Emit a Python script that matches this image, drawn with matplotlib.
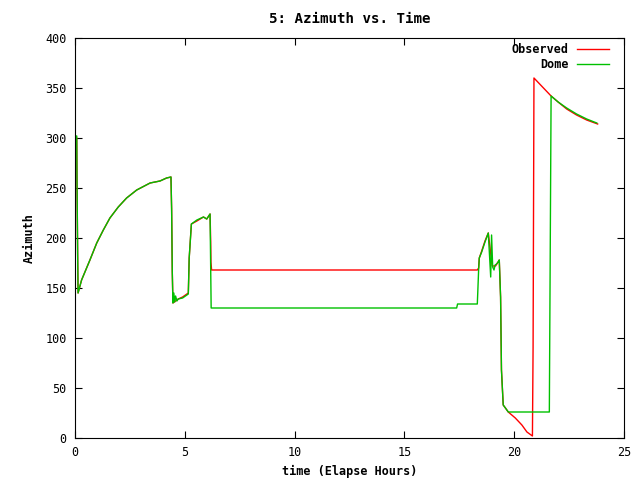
import matplotlib
matplotlib.use("Agg")
import matplotlib.pyplot as plt

# Dome azimuth (green)
dome_t = [0.00, 0.08, 0.09, 0.12, 0.14, 0.30, 0.68, 0.99, 1.29, 1.59, 1.97, 2.35,
          2.81, 3.42, 3.87, 4.17, 4.37, 4.40, 4.43, 4.46, 4.50, 4.54, 4.58, 4.64,
          4.70, 4.90, 5.16, 5.20, 5.30, 5.55, 5.85, 6.00, 6.15, 6.20, 17.38, 17.42,
          18.32, 18.34, 18.38, 18.41, 18.52, 18.67, 18.82, 18.87, 18.93, 18.97, 19.02,
          19.08, 19.13, 19.20, 19.27, 19.32, 19.38, 19.42, 19.50, 19.60, 19.73, 21.60,
          21.62, 21.68, 22.00, 22.39, 22.84, 23.30, 23.76]
dome_v = [302, 302, 262, 185, 145, 158, 178, 195, 208, 220, 231, 240,
          248, 255, 257, 260, 261, 229, 166, 135, 145, 136, 142, 137,
          139, 140, 144, 180, 214, 218, 221, 219, 224, 130, 130, 134,
          134, 145, 168, 180, 186, 196, 205, 185, 161, 203, 171,
          168, 173, 174, 176, 178, 141, 68, 33, 30, 26, 26,
          105, 342, 336, 330, 324, 319, 315]

# Observed azimuth (red)
obs_t = [0.00, 0.08, 0.09, 0.12, 0.14, 0.30, 0.68, 0.99, 1.29, 1.59, 1.97, 2.35,
         2.81, 3.42, 3.87, 4.17, 4.37, 4.40, 4.43, 4.46, 4.70, 4.90, 5.16, 5.20,
         5.30, 5.55, 5.85, 6.00, 6.15, 6.18, 6.19, 6.22, 18.32, 18.38, 18.41, 18.52,
         18.67, 18.82, 18.90, 19.00, 19.15, 19.32, 19.38, 19.42, 19.50, 19.60, 19.73,
         20.05, 20.35, 20.58, 20.83, 20.86, 20.90, 21.68, 22.00, 22.39, 22.84, 23.30,
         23.80]
obs_v = [300, 300, 261, 185, 145, 158, 178, 195, 208, 220, 231, 240,
         248, 255, 257, 260, 261, 229, 166, 135, 139, 141, 145, 180,
         214, 217, 221, 219, 224, 196, 176, 168, 168, 170, 180, 187,
         197, 205, 190, 172, 172, 178, 141, 68, 33, 30, 26,
         20, 13, 6, 2, 91, 360, 342, 336, 329, 323, 318,
         314]

xticks = [0, 5, 10, 15, 20, 25]
yticks = [0, 50, 100, 150, 200, 250, 300, 350, 400]

plt.rcParams["font.family"] = ["DejaVu Sans Mono"]
plt.rcParams["font.size"] = 8.5

fig = plt.figure(figsize=(6.4, 4.8), dpi=100)
ax = fig.add_axes([75 / 640, 42 / 480, 549 / 640, 400 / 480])

ax.plot(obs_t, obs_v, color="#ff0000", lw=1.0, label="Observed")
ax.plot(dome_t, dome_v, color="#00c000", lw=1.0, label="Dome")

ax.set_xlim(0, 25)
ax.set_ylim(0, 400)
ax.set_xticks(xticks)
ax.set_yticks(yticks)
ax.tick_params(direction="in", length=5, width=0.8, top=True, right=True,
               labeltop=False, labelright=False, pad=6)
for sp in ax.spines.values():
    sp.set_linewidth(0.8)

ax.set_title("5: Azimuth vs. Time", pad=11, fontweight="bold")
ax.set_xlabel("time (Elapse Hours)", labelpad=4, fontweight="bold")
ax.set_ylabel("Azimuth", labelpad=7, fontweight="bold")

leg = ax.legend(loc="upper right", bbox_to_anchor=(534 / 549, 395 / 400),
                frameon=False, markerfirst=False, borderpad=0, borderaxespad=0,
                handlelength=2.7, handletextpad=0.75, labelspacing=0.15,
                prop={"weight": "bold"})
for t in leg.get_texts():
    t.set_ha("right")
leg._legend_box.align = "right"

fig.savefig("out.png", dpi=100)
